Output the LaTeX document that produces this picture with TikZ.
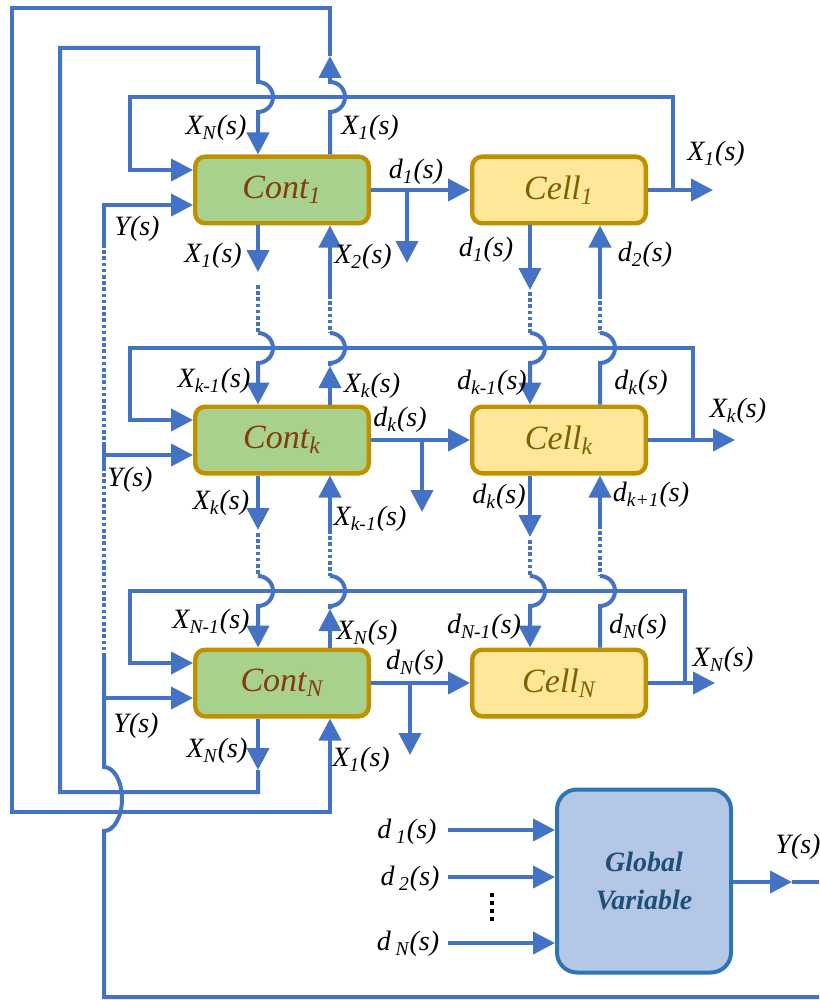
\documentclass[tikz,border=0pt]{standalone}
\usepackage{fontspec}
\setmainfont{Liberation Serif}
\usetikzlibrary{arrows.meta,calc}
\definecolor{ln}{HTML}{4472C4}
\definecolor{contfill}{HTML}{A9D18E}
\definecolor{cellfill}{HTML}{FFE699}
\definecolor{boxedge}{HTML}{BF9000}
\definecolor{conttext}{HTML}{843C0C}
\definecolor{celltext}{HTML}{7F6000}
\definecolor{gfill}{HTML}{B4C7E7}
\definecolor{gedge}{HTML}{2E75B6}
\definecolor{gtext}{HTML}{1F4E79}
\newcommand{\sg}[2]{#1\textsubscript{#2}(s)}
\begin{document}
\begin{tikzpicture}[x=0.5pt,y=-0.5pt,
  wire/.style={draw=ln,line width=2pt},
  arr/.style={wire,-{Triangle[width=11pt,length=11pt]}},
  rarr/.style={wire,{Triangle[width=11pt,length=11pt]}-},
  dots/.style={wire,dash pattern=on 1.8pt off 1.3pt},
  contbox/.style={draw=boxedge,fill=contfill,line width=2.2pt,rounded corners=5pt,minimum width=86.8pt,minimum height=33.3pt,inner sep=0pt,text=conttext,font=\fontsize{17}{20}\selectfont\itshape},
  cellbox/.style={draw=boxedge,fill=cellfill,line width=2.2pt,rounded corners=5pt,minimum width=86.8pt,minimum height=33.3pt,inner sep=0pt,text=celltext,font=\fontsize{17}{20}\selectfont\itshape},
  gbox/.style={draw=gedge,fill=gfill,line width=2pt,rounded corners=10pt,minimum width=87pt,minimum height=91.5pt,inner sep=0pt,text=gtext,font=\fontsize{14}{19}\selectfont\bfseries\itshape,align=center},
  lbl/.style={inner sep=0pt,font=\fontsize{14}{16}\selectfont\itshape}
]
\useasboundingbox (0,0) rectangle (819,1000);
% boxes
\node[contbox] (c1) at (282,190) {Cont\textsubscript{1}};
\node[contbox] (ck) at (282,440) {Cont\textsubscript{k}};
\node[contbox] (cN) at (282,683) {Cont\textsubscript{N}};
\node[cellbox] (l1) at (559,190) {Cell\textsubscript{1}};
\node[cellbox] (lk) at (559,440) {Cell\textsubscript{k}};
\node[cellbox] (lN) at (559,683) {Cell\textsubscript{N}};
\node[gbox] (g) at (644,881) {Global\\Variable};
% columns
\coordinate (xa) at (258,0);
\coordinate (xb) at (330,0);
\coordinate (xc) at (530,0);
\coordinate (xd) at (600,0);
% X_N feedback loop
\draw[arr] (cN.south -| xa) -- (258,770);
\draw[arr] (258,770) -- (258,792) -- (60,792) -- (60,48) -- (258,48) -- (258,82)
  arc[start angle=-90,end angle=90,radius=15] -- (c1.north -| xa);
% X_1 feedback loop
\draw[arr] (c1.north -| xb) -- (330,112) arc[start angle=90,end angle=-90,radius=15] -- (330,56);
\draw[arr] (330,56) -- (330,8) -- (12,8) -- (12,812) -- (330,812) -- (cN.south -| xb);
% row feedbacks and outputs
\draw[arr] (l1.east) -- (713,190);
\draw[arr] (673,190) -- (673,97) -- (130,97) -- (130,170) -- ($(c1.west)+(0,-20)$);
\draw[arr] (lk.east) -- (735,440);
\draw[arr] (693,440) -- (693,348) -- (130,348) -- (130,420) -- ($(ck.west)+(0,-20)$);
\draw[arr] (lN.east) -- (715,683);
\draw[arr] (685,683) -- (685,591) -- (130,591) -- (130,663) -- ($(cN.west)+(0,-20)$);
% d lines
\draw[arr] (c1.east) -- (l1.west);
\draw[arr] (407,190) -- (407,263);
\draw[arr] (ck.east) -- (lk.west);
\draw[arr] (422,440) -- (422,512);
\draw[arr] (cN.east) -- (lN.west);
\draw[arr] (410,683) -- (410,755);
% Y bus
\draw[wire] (104,203) -- (104,244);
\draw[dots] (104,244) -- (104,445);
\draw[wire] (104,445) -- (104,467);
\draw[dots] (104,467) -- (104,653);
\draw[wire] (104,653) -- (104,767) arc[start angle=-90,end angle=90,x radius=18,y radius=32] -- (104,997) -- (819,997);
\draw[arr] (104,205) -- ($(c1.west)+(0,15)$);
\draw[arr] (104,455) -- ($(ck.west)+(0,15)$);
\draw[arr] (104,698) -- ($(cN.west)+(0,15)$);
% column xa
\draw[arr] (c1.south -| xa) -- (258,272);
\draw[dots] (258,285) -- (258,333);
\draw[arr] (258,333) arc[start angle=-90,end angle=90,radius=15] -- (ck.north -| xa);
\draw[arr] (ck.south -| xa) -- (258,530);
\draw[dots] (258,533) -- (258,576);
\draw[arr] (258,576) arc[start angle=-90,end angle=90,radius=15] -- (cN.north -| xa);
% column xb
\draw[rarr] (c1.south -| xb) -- (330,295);
\draw[dots] (330,295) -- (330,333);
\draw[arr] (ck.north -| xb) -- (330,366);
\draw[wire] (330,366) -- (330,363) arc[start angle=90,end angle=-90,radius=15];
\draw[rarr] (ck.south -| xb) -- (330,530);
\draw[dots] (330,530) -- (330,576);
\draw[arr] (cN.north -| xb) -- (330,609);
\draw[wire] (330,609) -- (330,606) arc[start angle=90,end angle=-90,radius=15];
% column xc
\draw[arr] (l1.south -| xc) -- (530,290);
\draw[dots] (530,292) -- (530,333);
\draw[arr] (530,333) arc[start angle=-90,end angle=90,radius=15] -- (lk.north -| xc);
\draw[arr] (lk.south -| xc) -- (530,537);
\draw[dots] (530,540) -- (530,576);
\draw[arr] (530,576) arc[start angle=-90,end angle=90,radius=15] -- (lN.north -| xc);
% column xd
\draw[rarr] (l1.south -| xd) -- (600,295);
\draw[dots] (600,295) -- (600,333);
\draw[wire] (lk.north -| xd) -- (600,363) arc[start angle=90,end angle=-90,radius=15];
\draw[rarr] (lk.south -| xd) -- (600,525);
\draw[dots] (600,525) -- (600,576);
\draw[wire] (lN.north -| xd) -- (600,606) arc[start angle=90,end angle=-90,radius=15];
% global variable
\draw[arr] (448,830) -- ($(g.west)+(0,-51)$);
\draw[arr] (448,877) -- ($(g.west)+(0,-4)$);
\draw[arr] (448,943) -- ($(g.west)+(0,62)$);
\draw[arr] ($(g.east)+(0,1)$) -- (792,882);
\draw[wire] (792,882) -- (819,882);
\draw[line width=1.6pt,dash pattern=on 2pt off 2pt] (492,893) -- (492,923);
% labels row 1
\node[lbl] (a1) at (216,128) {\sg{X}{N}};
\node[lbl] (a2) at (370,128) {\sg{X}{1}};
\node[lbl] (a3) at (137,229) {Y(s)};
\node[lbl] (a4) at (213,256) {\sg{X}{1}};
\node[lbl] (a5) at (363,257) {\sg{X}{2}};
\node[lbl] (a6) at (416,172) {\sg{d}{1}};
\node[lbl] (a7) at (486,250) {\sg{d}{1}};
\node[lbl] (a8) at (645,255) {\sg{d}{2}};
\node[lbl] (a9) at (716,154) {\sg{X}{1}};
% labels row k
\node[lbl] (b1) at (214,381) {\sg{X}{k-1}};
\node[lbl] (b2) at (372,386) {\sg{X}{k}};
\node[lbl] (b3) at (400,420) {\sg{d}{k}};
\node[lbl] (b4) at (130,480) {Y(s)};
\node[lbl] (b5) at (221,503) {\sg{X}{k}};
\node[lbl] (b6) at (370,519) {\sg{X}{k-1}};
\node[lbl] (b7) at (492,383) {\sg{d}{k-1}};
\node[lbl] (b8) at (641,383) {\sg{d}{k}};
\node[lbl] (b9) at (738,411) {\sg{X}{k}};
\node[lbl] (b10) at (499,497) {\sg{d}{k}};
\node[lbl] (b11) at (651,495) {\sg{d}{k+1}};
% labels row N
\node[lbl] (n1) at (211,622) {\sg{X}{N-1}};
\node[lbl] (n2) at (367,633) {\sg{X}{N}};
\node[lbl] (n3) at (415,663) {\sg{d}{N}};
\node[lbl] (n4) at (136,726) {Y(s)};
\node[lbl] (n5) at (217,751) {\sg{X}{N}};
\node[lbl] (n6) at (361,760) {\sg{X}{1}};
\node[lbl] (n7) at (484,627) {\sg{d}{N-1}};
\node[lbl] (n8) at (638,627) {\sg{d}{N}};
\node[lbl] (n9) at (723,660) {\sg{X}{N}};
% labels global
\node[lbl] (m1) at (407,832) {d\,\textsubscript{1}(s)};
\node[lbl] (m2) at (410,879) {d\,\textsubscript{2}(s)};
\node[lbl] (m3) at (408,944) {d\,\textsubscript{N}(s)};
\node[lbl] (m4) at (798,847) {Y(s)};
\end{tikzpicture}
\end{document}
